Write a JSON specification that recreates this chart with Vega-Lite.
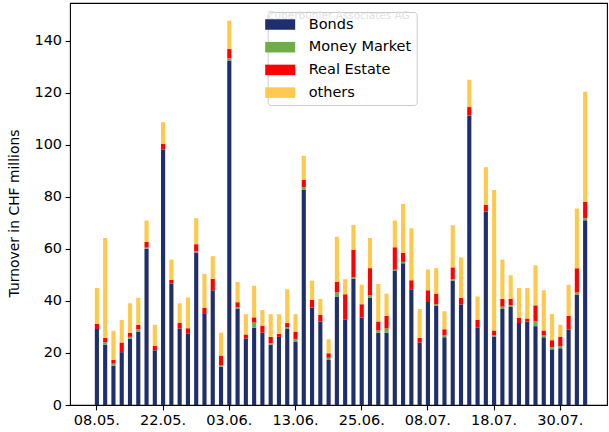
{
  "$schema": "https://vega.github.io/schema/vega-lite/v6.json",
  "width": 537,
  "height": 402,
  "autosize": {"type": "none"},
  "padding": {"left": 70, "right": 2, "top": 3, "bottom": 27},
  "title": {
    "text": "Zuberbühler Associates AG",
    "fontSize": 10.5,
    "font": "DejaVu Sans",
    "fontWeight": "normal",
    "color": "#e2e2e2",
    "anchor": "middle",
    "frame": "group",
    "orient": "top",
    "baseline": "top",
    "offset": -18
  },
  "data": {
    "values": [
      {"d": "08.05.", "Bonds": 29.2, "Money Market": 0, "Real Estate": 2.0, "others": 13.8},
      {"d": "09.05.", "Bonds": 23.2, "Money Market": 0.9, "Real Estate": 1.7, "others": 38.4},
      {"d": "11.05.", "Bonds": 15.1, "Money Market": 0.8, "Real Estate": 1.4, "others": 11.2},
      {"d": "14.05.", "Bonds": 20.3, "Money Market": 0, "Real Estate": 3.7, "others": 8.7},
      {"d": "15.05.", "Bonds": 25.5, "Money Market": 0.7, "Real Estate": 1.6, "others": 11.3},
      {"d": "16.05.", "Bonds": 28.2, "Money Market": 0.9, "Real Estate": 1.7, "others": 10.4},
      {"d": "17.05.", "Bonds": 60.0, "Money Market": 0.5, "Real Estate": 2.2, "others": 8.2},
      {"d": "18.05.", "Bonds": 21.0, "Money Market": 0, "Real Estate": 1.7, "others": 8.1},
      {"d": "22.05.", "Bonds": 98.2, "Money Market": 0, "Real Estate": 2.2, "others": 8.3},
      {"d": "23.05.", "Bonds": 46.7, "Money Market": 0, "Real Estate": 1.4, "others": 7.8},
      {"d": "24.05.", "Bonds": 29.4, "Money Market": 0, "Real Estate": 2.1, "others": 7.6},
      {"d": "25.05.", "Bonds": 27.4, "Money Market": 0, "Real Estate": 2.1, "others": 11.8},
      {"d": "28.05.", "Bonds": 58.6, "Money Market": 0.6, "Real Estate": 2.6, "others": 10.0},
      {"d": "29.05.", "Bonds": 35.0, "Money Market": 0, "Real Estate": 2.4, "others": 13.0},
      {"d": "30.05.", "Bonds": 44.1, "Money Market": 0, "Real Estate": 4.4, "others": 8.7},
      {"d": "31.05.", "Bonds": 14.7, "Money Market": 0.5, "Real Estate": 3.8, "others": 8.8},
      {"d": "03.06.", "Bonds": 132.4, "Money Market": 0.8, "Real Estate": 3.6, "others": 10.9},
      {"d": "04.06.", "Bonds": 36.9, "Money Market": 0.6, "Real Estate": 2.0, "others": 7.8},
      {"d": "05.06.", "Bonds": 25.5, "Money Market": 0, "Real Estate": 1.6, "others": 7.8},
      {"d": "06.06.", "Bonds": 29.7, "Money Market": 2.0, "Real Estate": 2.0, "others": 12.1},
      {"d": "07.06.", "Bonds": 27.8, "Money Market": 0, "Real Estate": 2.7, "others": 6.0},
      {"d": "08.06.", "Bonds": 23.2, "Money Market": 0.6, "Real Estate": 2.4, "others": 8.7},
      {"d": "11.06.", "Bonds": 26.2, "Money Market": 0, "Real Estate": 1.2, "others": 7.5},
      {"d": "12.06.", "Bonds": 29.2, "Money Market": 0.7, "Real Estate": 1.6, "others": 13.0},
      {"d": "13.06.", "Bonds": 24.4, "Money Market": 1.0, "Real Estate": 2.8, "others": 6.7},
      {"d": "14.06.", "Bonds": 82.7, "Money Market": 1.0, "Real Estate": 2.8, "others": 9.3},
      {"d": "15.06.", "Bonds": 37.4, "Money Market": 0, "Real Estate": 3.0, "others": 7.4},
      {"d": "18.06.", "Bonds": 32.1, "Money Market": 0, "Real Estate": 2.5, "others": 6.2},
      {"d": "19.06.", "Bonds": 17.3, "Money Market": 0.9, "Real Estate": 1.7, "others": 5.4},
      {"d": "20.06.", "Bonds": 41.7, "Money Market": 1.6, "Real Estate": 4.1, "others": 17.2},
      {"d": "21.06.", "Bonds": 32.8, "Money Market": 0, "Real Estate": 9.8, "others": 5.7},
      {"d": "22.06.", "Bonds": 48.5, "Money Market": 0.6, "Real Estate": 10.6, "others": 9.5},
      {"d": "25.06.", "Bonds": 33.6, "Money Market": 0, "Real Estate": 5.1, "others": 7.5},
      {"d": "26.06.", "Bonds": 41.3, "Money Market": 0.8, "Real Estate": 10.5, "others": 11.6},
      {"d": "27.06.", "Bonds": 27.8, "Money Market": 0.8, "Real Estate": 3.5, "others": 14.4},
      {"d": "28.06.", "Bonds": 27.8, "Money Market": 1.6, "Real Estate": 4.8, "others": 8.6},
      {"d": "29.06.", "Bonds": 51.7, "Money Market": 0.3, "Real Estate": 8.6, "others": 10.3},
      {"d": "02.07.", "Bonds": 54.5, "Money Market": 0.5, "Real Estate": 3.5, "others": 18.8},
      {"d": "03.07.", "Bonds": 44.5, "Money Market": 0, "Real Estate": 3.4, "others": 20.0},
      {"d": "04.07.", "Bonds": 24.0, "Money Market": 0, "Real Estate": 1.8, "others": 11.1},
      {"d": "08.07.", "Bonds": 39.6, "Money Market": 0, "Real Estate": 4.5, "others": 8.0},
      {"d": "09.07.", "Bonds": 38.2, "Money Market": 0.5, "Real Estate": 4.1, "others": 9.8},
      {"d": "10.07.", "Bonds": 26.0, "Money Market": 0.7, "Real Estate": 2.4, "others": 6.9},
      {"d": "11.07.", "Bonds": 47.7, "Money Market": 0.6, "Real Estate": 4.6, "others": 16.2},
      {"d": "12.07.", "Bonds": 38.6, "Money Market": 0, "Real Estate": 2.6, "others": 15.5},
      {"d": "13.07.", "Bonds": 111.3, "Money Market": 0, "Real Estate": 3.2, "others": 10.5},
      {"d": "16.07.", "Bonds": 29.7, "Money Market": 0, "Real Estate": 3.0, "others": 9.0},
      {"d": "17.07.", "Bonds": 74.4, "Money Market": 0, "Real Estate": 2.5, "others": 14.5},
      {"d": "18.07.", "Bonds": 26.3, "Money Market": 0.6, "Real Estate": 1.7, "others": 54.0},
      {"d": "19.07.", "Bonds": 36.9, "Money Market": 0.9, "Real Estate": 3.0, "others": 15.1},
      {"d": "20.07.", "Bonds": 37.7, "Money Market": 0.6, "Real Estate": 2.5, "others": 9.1},
      {"d": "23.07.", "Bonds": 31.5, "Money Market": 0, "Real Estate": 2.1, "others": 11.4},
      {"d": "24.07.", "Bonds": 32.1, "Money Market": 0, "Real Estate": 1.1, "others": 11.8},
      {"d": "25.07.", "Bonds": 30.3, "Money Market": 2.0, "Real Estate": 6.0, "others": 15.4},
      {"d": "26.07.", "Bonds": 26.0, "Money Market": 0.7, "Real Estate": 1.9, "others": 15.5},
      {"d": "27.07.", "Bonds": 21.4, "Money Market": 0.8, "Real Estate": 2.7, "others": 10.1},
      {"d": "30.07.", "Bonds": 21.8, "Money Market": 0.8, "Real Estate": 3.6, "others": 4.6},
      {"d": "31.07.", "Bonds": 29.0, "Money Market": 0, "Real Estate": 5.2, "others": 12.0},
      {"d": "02.08.", "Bonds": 42.4, "Money Market": 0.8, "Real Estate": 9.4, "others": 22.9},
      {"d": "03.08.", "Bonds": 71.0, "Money Market": 0.8, "Real Estate": 6.3, "others": 42.3}
    ]
  },
  "transform": [
    {"fold": ["Bonds", "Money Market", "Real Estate", "others"], "as": ["type", "value"]}
  ],
  "mark": {"type": "bar"},
  "encoding": {
    "x": {
      "field": "d",
      "type": "ordinal",
      "scale": {
        "type": "band",
        "domain": ["_a", "_b", "_c",
          "08.05.", "09.05.", "11.05.", "14.05.", "15.05.", "16.05.", "17.05.", "18.05.",
          "22.05.", "23.05.", "24.05.", "25.05.", "28.05.", "29.05.", "30.05.", "31.05.",
          "03.06.", "04.06.", "05.06.", "06.06.", "07.06.", "08.06.", "11.06.", "12.06.",
          "13.06.", "14.06.", "15.06.", "18.06.", "19.06.", "20.06.", "21.06.", "22.06.",
          "25.06.", "26.06.", "27.06.", "28.06.", "29.06.", "02.07.", "03.07.", "04.07.",
          "08.07.", "09.07.", "10.07.", "11.07.", "12.07.", "13.07.", "16.07.", "17.07.",
          "18.07.", "19.07.", "20.07.", "23.07.", "24.07.", "25.07.", "26.07.", "27.07.",
          "30.07.", "31.07.", "02.08.", "03.08.",
          "_y", "_z"],
        "paddingInner": 0.5,
        "paddingOuter": 0.195,
        "align": 0
      },
      "axis": {
        "title": null,
        "values": ["08.05.", "22.05.", "03.06.", "13.06.", "25.06.", "08.07.", "18.07.", "30.07."],
        "labelAngle": 0,
        "domain": false,
        "ticks": true,
        "tickSize": 4.9,
        "tickWidth": 1.1,
        "tickColor": "#000000",
        "labelPadding": 3.5,
        "labelFontSize": 14.5,
        "labelColor": "#000000",
        "labelFont": "DejaVu Sans"
      }
    },
    "y": {
      "field": "value",
      "type": "quantitative",
      "stack": "zero",
      "scale": {"domain": [0, 154.5], "nice": false, "zero": true},
      "axis": {
        "title": "Turnover in CHF millions",
        "values": [0, 20, 40, 60, 80, 100, 120, 140],
        "grid": false,
        "domain": false,
        "tickSize": 4.9,
        "tickWidth": 1.1,
        "tickColor": "#000000",
        "labelPadding": 3.5,
        "labelFontSize": 14.5,
        "labelColor": "#000000",
        "labelFont": "DejaVu Sans",
        "titleFont": "DejaVu Sans",
        "titleFontSize": 13.9,
        "titleFontWeight": "normal",
        "titleColor": "#000000",
        "titlePadding": 12,
        "titleY": 210
      }
    },
    "color": {
      "field": "type",
      "type": "nominal",
      "scale": {
        "domain": ["Bonds", "Money Market", "Real Estate", "others"],
        "range": ["#1F2F6E", "#70AD47", "#FF0000", "#FFC94D"]
      },
      "legend": {
        "title": null,
        "orient": "none",
        "legendX": 197.7,
        "legendY": 9,
        "direction": "vertical",
        "symbolType": "M-2,-0.7H2V0.7H-2Z",
        "symbolSize": 225,
        "symbolStrokeWidth": 0,
        "symbolOpacity": 1,
        "labelFont": "DejaVu Sans",
        "labelFontSize": 14.5,
        "labelColor": "#000000",
        "labelOffset": 21,
        "rowPadding": 7.7,
        "padding": 5,
        "fillColor": "rgba(255,255,255,0.8)",
        "strokeColor": "#cccccc",
        "cornerRadius": 3
      }
    },
    "order": {"field": "type", "sort": "ascending"}
  },
  "config": {
    "font": "DejaVu Sans",
    "view": {"stroke": "#000000", "strokeWidth": 1.1}
  }
}
